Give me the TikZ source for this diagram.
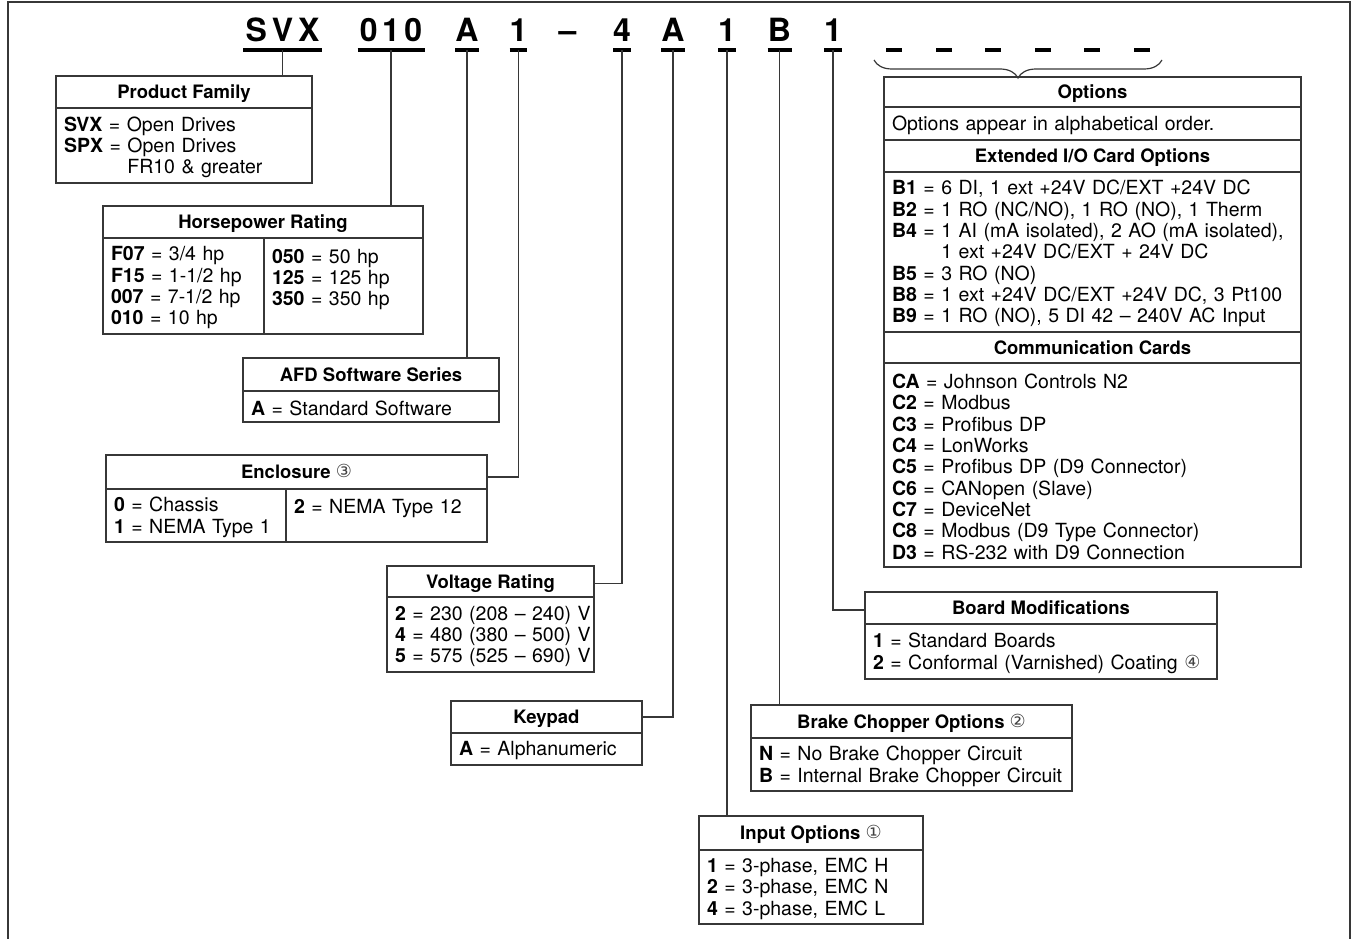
\documentclass[tikz,border=0pt]{standalone}
\usepackage{fontspec}
\setmainfont{TeX Gyre Heros}
\newfontfamily\symfont{DejaVu Sans}
\usetikzlibrary{positioning, decorations.pathreplacing}
\definecolor{Linea}{RGB}{55,55,55}
\newcommand\codefont{\fontsize{32}{32}\selectfont\bfseries}
\newcommand\hdrfont{\fontsize{18.5}{21.3}\selectfont\bfseries}
\newcommand\cellfont{\fontsize{19.5}{21.3}\selectfont}
\newcommand\cellbegin{\rule{0pt}{18pt}}
\newcommand\cellend{\endgraf\kern0pt}
\newcommand\circnum[1]{{\symfont\fontsize{18}{18}\selectfont\mdseries\color{black!75}\raisebox{1pt}{#1}}}

\begin{document}
\begin{tikzpicture}[x=1pt, y=-1pt,
  uline/.style={draw=black, line width=3.2pt},
  code/.style={
    inner sep=0pt, outer sep=0pt, anchor=base, font=\codefont,
    append after command={([yshift=-8pt]\tikzlastnode.base west)
      edge[uline] ([yshift=-8pt]\tikzlastnode.base east)}
  },
  hdr/.style={
    rectangle, draw=Linea, line width=1.4pt,
    inner sep=0pt, outer sep=0pt, anchor=north west,
    text height=13.3pt, text depth=0pt,
    minimum width=#1, font=\hdrfont
  },
  cell/.style={
    rectangle, draw=Linea, line width=1.4pt,
    inner xsep=8pt, inner ysep=0pt, outer sep=0pt, anchor=north west,
    text width=#1, align=left, font=\cellfont,
    execute at begin node=\cellbegin,
    execute at end node=\cellend
  },
  conn/.style={draw=Linea, line width=1.3pt},
  brc/.style={draw=Linea, line width=1.2pt, decorate,
    decoration={brace, mirror, amplitude=18pt}}
]
\useasboundingbox (0,0) rectangle (1353,939);
\draw[draw=Linea, line width=2pt] (8,939) -- (8,2) -- (1350,2) -- (1350,939);

\node[code, minimum width=79pt] (svx)   at (282.5,42) {\makebox[26.3pt]{S}\makebox[26.3pt]{V}\makebox[26.3pt]{X}};
\node[code, minimum width=67pt] (hp010) at (391,42)   {\makebox[22.3pt]{0}\makebox[22.3pt]{1}\makebox[22.3pt]{0}};
\node[code, minimum width=22pt] (swA)   at (467,42)   {A};
\node[code, minimum width=16pt] (enc1)  at (518.5,42) {1};
\node[inner sep=0pt, anchor=base, font=\codefont] (dash) at (567.5,42) {–};
\node[code, minimum width=15pt] (volt4) at (622,42)   {4};
\node[code, minimum width=22pt] (keyA)  at (673,42)   {A};
\node[code, minimum width=16pt] (inp1)  at (727,42)   {1};
\node[code, minimum width=24pt] (brkB)  at (779.5,42) {B};
\node[code, minimum width=16pt] (brd1)  at (833,42)   {1};
\foreach \i/\x in {1/894, 2/944, 3/993, 4/1043, 5/1092, 6/1142}
  \node[code, minimum width=16pt] (opt\i) at (\x,42) {};

\node[hdr=256pt, minimum height=32pt] (pfH) at (56,76) {Product Family};
\node[cell=240pt, minimum height=75pt] (pfB) at (pfH.south west)
  {\textbf{SVX} = Open Drives\\\textbf{SPX} = Open Drives\\\hphantom{\textbf{SPX} = }FR10 \& greater};

\node[hdr=320pt, minimum height=32pt] (hpH) at (103,206) {Horsepower Rating};
\node[cell=145pt, minimum height=96pt] (hpL) at (hpH.south west)
  {\textbf{F07} = 3/4 hp\\\textbf{F15} = 1-1/2 hp\\\textbf{007} = 7-1/2 hp\\\textbf{010} = 10 hp};
\node[cell=143pt, minimum height=96pt] (hpR) at (hpL.north east)
  {\textbf{050} = 50 hp\\\textbf{125} = 125 hp\\\textbf{350} = 350 hp\\\mbox{}};

\node[hdr=256pt, minimum height=33pt] (afdH) at (243,358) {AFD Software Series};
\node[cell=240pt, minimum height=31pt] (afdB) at (afdH.south west) {\textbf{A} = Standard Software};

\node[hdr=381pt, minimum height=34pt] (encH) at (106,455) {Enclosure \circnum{③}};
\node[cell=164pt, minimum height=53pt] (encL) at (encH.south west)
  {\textbf{0} = Chassis\\\textbf{1} = NEMA Type 1};
\node[cell=185pt, minimum height=53pt] (encR) at (encL.north east)
  {\textbf{2} = NEMA Type 12\\\mbox{}};

\node[hdr=207pt, minimum height=31pt] (voltH) at (387,566) {Voltage Rating};
\node[cell=191pt, minimum height=75pt] (voltB) at (voltH.south west)
  {\mbox{\textbf{2} = 230 (208 – 240) V}\\\mbox{\textbf{4} = 480 (380 – 500) V}\\\mbox{\textbf{5} = 575 (525 – 690) V}};

\node[hdr=191pt, minimum height=32pt] (keyH) at (451,701) {Keypad};
\node[cell=175pt, minimum height=32pt] (keyB) at (keyH.south west) {\textbf{A} = Alphanumeric};

\node[hdr=224pt, minimum height=34pt] (inpH) at (699,816) {Input Options \circnum{①}};
\node[cell=208pt, minimum height=74pt] (inpB) at (inpH.south west)
  {\textbf{1} = 3-phase, EMC H\\\textbf{2} = 3-phase, EMC N\\\textbf{4} = 3-phase, EMC L};

\node[hdr=321pt, minimum height=33pt] (brkH) at (751,705) {Brake Chopper Options \circnum{②}};
\node[cell=305pt, minimum height=53pt] (brkB2) at (brkH.south west)
  {\textbf{N} = No Brake Chopper Circuit\\\textbf{B} = Internal Brake Chopper Circuit};

\node[hdr=352pt, minimum height=32pt] (brdH) at (865,592) {Board Modifications};
\node[cell=336pt, minimum height=55pt] (brdB) at (brdH.south west)
  {\textbf{1} = Standard Boards\\\textbf{2} = Conformal (Varnished) Coating \circnum{④}};

\node[hdr=417pt, minimum height=30pt] (optH) at (884,77) {Options};
\node[cell=401pt, minimum height=33pt, below=0pt of optH] (optN) {Options appear in alphabetical order.};
\node[hdr=417pt, minimum height=32pt, below=0pt of optN] (extH) {Extended I/O Card Options};
\node[cell=401pt, minimum height=160pt, below=0pt of extH] (extB)
  {\textbf{B1} = 6 DI, 1 ext +24V DC/EXT +24V DC\\
   \textbf{B2} = 1 RO (NC/NO), 1 RO (NO), 1 Therm\\
   \textbf{B4} = 1 AI (mA isolated), 2 AO (mA isolated),\\
   \hphantom{\textbf{B4} = }1 ext +24V DC/EXT + 24V DC\\
   \textbf{B5} = 3 RO (NO)\\
   \textbf{B8} = 1 ext +24V DC/EXT +24V DC, 3 Pt100\\
   \textbf{B9} = 1 RO (NO), 5 DI 42 – 240V AC Input};
\node[hdr=417pt, minimum height=31pt, below=0pt of extB] (comH) {Communication Cards};
\node[cell=401pt, minimum height=204pt, below=0pt of comH] (comB)
  {\textbf{CA} = Johnson Controls N2\\
   \textbf{C2} = Modbus\\
   \textbf{C3} = Profibus DP\\
   \textbf{C4} = LonWorks\\
   \textbf{C5} = Profibus DP (D9 Connector)\\
   \textbf{C6} = CANopen (Slave)\\
   \textbf{C7} = DeviceNet\\
   \textbf{C8} = Modbus (D9 Type Connector)\\
   \textbf{D3} = RS-232 with D9 Connection};

\draw[conn] ([yshift=-8pt]svx.base)   -- (svx |- pfH.north);
\draw[conn] ([yshift=-8pt]hp010.base) -- (hp010 |- hpH.north);
\draw[conn] ([yshift=-8pt]swA.base)   -- (swA |- afdH.north);
\draw[conn] ([yshift=-8pt]enc1.base)  |- ([yshift=-5pt]encH.east);
\draw[conn] ([yshift=-8pt]volt4.base) |- ([yshift=-2pt]voltH.east);
\draw[conn] ([yshift=-8pt]keyA.base)  |- (keyH.east);
\draw[conn] ([yshift=-8pt]inp1.base)  -- (inp1 |- inpH.north);
\draw[conn] ([yshift=-8pt]brkB.base)  -- (brkB |- brkH.north);
\draw[conn] ([yshift=-8pt]brd1.base)  |- ([yshift=-2pt]brdH.west);
\draw[brc] ([xshift=-20pt,yshift=-18pt]opt1.base) -- ([xshift=20pt,yshift=-18pt]opt6.base);
\end{tikzpicture}
\end{document}
